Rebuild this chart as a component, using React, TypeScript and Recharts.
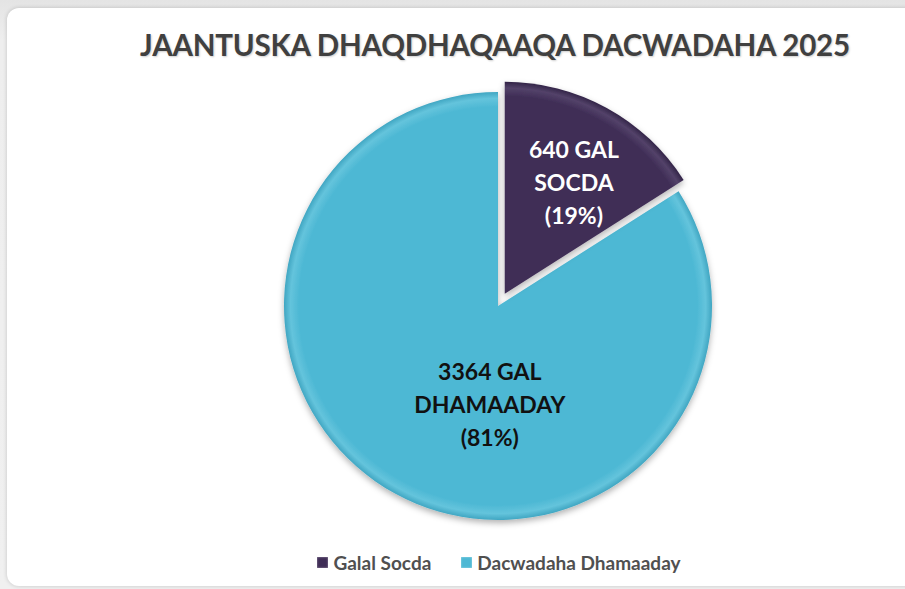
import React from 'react';
import { PieChart, Pie, Cell } from 'recharts';

const categories = ['Galal Socda', 'Dacwadaha Dhamaaday'];
const values = [640, 3364];
const sliceWords = ['SOCDA', 'DHAMAADAY'];
const percentLabels = [19, 81];

const colors = ['#3f2d56', '#4db8d4'];
const labelColors = ['#ffffff', '#111111'];
const RAD = Math.PI / 180;

const W = 905;
const H = 589;
const CX = 498;
const CY = 306;
const R = 214;
const EXPLODE = 14;

const chartData = categories.map((name, i) => ({ name, value: values[i] }));
const total = values.reduce((a, b) => a + b, 0);
// mid angle of the first (exploded) slice, recharts convention (ccw from 3 o'clock)
const firstMid = 90 - (values[0] / total) * 180;
const ecx = CX + EXPLODE * Math.cos(firstMid * RAD);
const ecy = CY - EXPLODE * Math.sin(firstMid * RAD);

// label placement per slice: radius fraction and angle tweak
const labelPos = [
  { r: 0.62, da: -3 },
  { r: 0.46, da: 24 },
];

const renderLabel = (show: number) => (props: any) => {
  const { cx, cy, midAngle, outerRadius, index } = props;
  if (index !== show) return null;
  const p = labelPos[index];
  const a = (midAngle + p.da) * RAD;
  const x = cx + outerRadius * p.r * Math.cos(a);
  const y = cy - outerRadius * p.r * Math.sin(a);
  const lines = [`${values[index]} GAL`, sliceWords[index], `(${percentLabels[index]}%)`];
  return (
    <text
      x={x}
      y={y}
      textAnchor="middle"
      dominantBaseline="central"
      fill={labelColors[index]}
      style={{ fontFamily: 'Lato, sans-serif', fontWeight: 700, fontSize: 23 }}
    >
      {lines.map((l, k) => (
        <tspan key={k} x={x} dy={k === 0 ? -33 : 33}>
          {l}
        </tspan>
      ))}
    </text>
  );
};

export default function App() {
  return (
    <div
      style={{
        position: 'fixed',
        left: 0,
        top: 0,
        width: W,
        height: H,
        overflow: 'hidden',
        background: 'linear-gradient(#e4e4e4, #eeeeee 40px, #f0f0f0)',
      }}
    >
      <div
        style={{
          position: 'absolute',
          left: 7,
          top: 8,
          width: 930,
          height: 578,
          borderRadius: 12,
          background: '#ffffff',
          boxShadow: '0 0 4px rgba(0,0,0,0.18)',
        }}
      />
      <div
        style={{
          position: 'absolute',
          left: 0,
          width: 990,
          top: 27,
          textAlign: 'center',
          fontFamily: 'Lato, sans-serif',
          fontWeight: 700,
          fontSize: 29.5,
          letterSpacing: -0.2,
          color: '#404040',
          textShadow: '1px 1px 2px rgba(0,0,0,0.2)',
          whiteSpace: 'nowrap',
        }}
      >
        JAANTUSKA DHAQDHAQAAQA DACWADAHA 2025
      </div>
      <div style={{ position: 'absolute', left: 0, top: 0 }}>
        <PieChart width={W} height={H} margin={{ top: 0, right: 0, bottom: 0, left: 0 }}>
          <defs>
            <radialGradient id="bevelBlue" gradientUnits="userSpaceOnUse" cx={CX} cy={CY} r={R}>
              <stop offset="0" stopColor={colors[1]} />
              <stop offset="0.93" stopColor={colors[1]} />
              <stop offset="0.97" stopColor="#64c4dc" />
              <stop offset="1" stopColor="#40a6c2" />
            </radialGradient>
            <radialGradient id="bevelPurple" gradientUnits="userSpaceOnUse" cx={ecx} cy={ecy} r={R - 2}>
              <stop offset="0" stopColor={colors[0]} />
              <stop offset="0.93" stopColor={colors[0]} />
              <stop offset="0.97" stopColor="#534269" />
              <stop offset="1" stopColor="#322447" />
            </radialGradient>
            <filter id="pieShadow" x="-10%" y="-10%" width="120%" height="125%">
              <feDropShadow dx="0" dy="3" stdDeviation="3" floodColor="#000" floodOpacity="0.3" />
            </filter>
          </defs>
          <Pie
            data={chartData}
            dataKey="value"
            nameKey="name"
            cx={CX}
            cy={CY}
            outerRadius={R}
            startAngle={90}
            endAngle={-270}
            isAnimationActive={false}
            labelLine={false}
            label={renderLabel(1)}
            style={{ filter: 'url(#pieShadow)' }}
          >
            <Cell key="c0" fill="none" stroke="none" />
            <Cell key="c1" fill="url(#bevelBlue)" stroke="none" />
          </Pie>
          <Pie
            data={chartData}
            dataKey="value"
            nameKey="name"
            cx={ecx}
            cy={ecy}
            outerRadius={R - 2}
            startAngle={90}
            endAngle={-270}
            isAnimationActive={false}
            labelLine={false}
            label={renderLabel(0)}
            style={{ filter: 'url(#pieShadow)' }}
          >
            <Cell key="p0" fill="url(#bevelPurple)" stroke="none" />
            <Cell key="p1" fill="none" stroke="none" />
          </Pie>
        </PieChart>
      </div>
      <div
        style={{
          position: 'absolute',
          left: 0,
          width: 998,
          top: 551,
          display: 'flex',
          justifyContent: 'center',
          gap: 30,
          fontFamily: 'Lato, sans-serif',
          fontWeight: 700,
          fontSize: 19,
          color: '#505050',
        }}
      >
        {categories.map((c, i) => (
          <div key={c} style={{ display: 'flex', alignItems: 'center', gap: 5 }}>
            <span
              style={{
                width: 11,
                height: 11,
                background: colors[i],
                boxShadow: 'inset 0 0 2px rgba(255,255,255,0.6)',
                display: 'inline-block',
              }}
            />
            <span>{c}</span>
          </div>
        ))}
      </div>
    </div>
  );
}
